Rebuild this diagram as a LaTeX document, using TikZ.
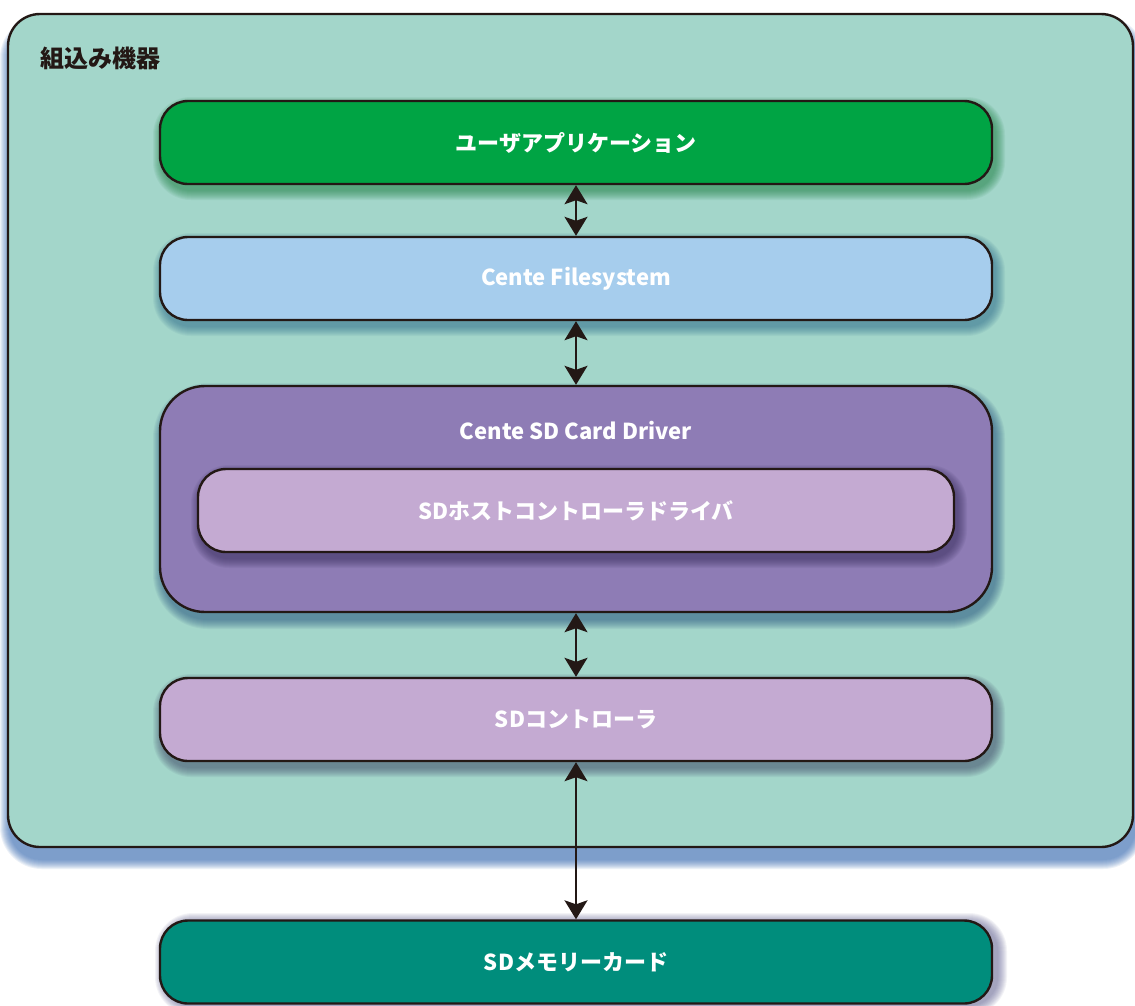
\documentclass[tikz,border=0pt]{standalone}
\usepackage{fontspec}
\setmainfont{Noto Sans CJK JP}
\usetikzlibrary{arrows.meta}
\definecolor{edge}{HTML}{231815}
\definecolor{outerfill}{HTML}{A3D6CA}
\definecolor{appfill}{HTML}{00A444}
\definecolor{fsfill}{HTML}{A6CDED}
\definecolor{drvfill}{HTML}{8E7CB5}
\definecolor{lilac}{HTML}{C4AAD2}
\definecolor{cardfill}{HTML}{008D7C}
\definecolor{shgreen}{HTML}{1A7F40}
\definecolor{shblue}{HTML}{2C6A8C}
\definecolor{shdrv}{HTML}{24507E}
\definecolor{shinner}{HTML}{352A5A}
\definecolor{shctl}{HTML}{3E4466}
\definecolor{shouter}{HTML}{2F65B0}
\definecolor{shcard}{HTML}{55558A}
\tikzset{
  box/.style={draw=edge, line width=2.4pt, rounded corners=28pt,
    minimum width=832pt, minimum height=83pt, inner sep=0pt,
    text=white, font=\fontsize{22}{26}\selectfont\bfseries},
  conn/.style={line width=2pt, draw=edge,
    {Stealth[width=23pt,length=19pt,inset=4pt]}-{Stealth[width=23pt,length=19pt,inset=4pt]}},
  boxlabel/.style={text=white, font=\fontsize{22}{26}\selectfont\bfseries, inner sep=0pt},
}
% x1 y1 x2 y2 radius colour dx dy opacity
\newcommand\softshadow[9]{%
  \foreach \i in {1,...,10}{%
    \pgfmathsetmacro\rr{#5+\i}%
    \fill[#6, opacity=#9, rounded corners=\rr pt]
      (#1+#7-\i, #2+#8-\i) rectangle (#3+#7+\i, #4+#8+\i);
  }}
\begin{document}
\begin{tikzpicture}[x=1pt,y=-1pt]
\useasboundingbox[fill=white] (0,0) rectangle (1135,1005);
% outer
\softshadow{8}{14}{1133}{847}{32}{shouter}{2}{12}{0.09}
\node[box, fill=outerfill, rounded corners=32pt, minimum width=1125pt, minimum height=833pt] (outer) at (570.5,430.5) {};
\node[anchor=west, text=edge, font=\fontsize{24}{28}\selectfont\bfseries, inner sep=0pt] (outerlabel) at (40,58) {組込み機器};
% app
\softshadow{160}{101}{992}{184}{28}{shgreen}{3}{6}{0.07}
\node[box, fill=appfill] (app) at (576,142.5) {ユーザアプリケーション};
% fs
\softshadow{160}{237}{992}{320}{28}{shblue}{3}{6}{0.07}
\node[box, fill=fsfill] (fs) at (576,278.5) {Cente Filesystem};
% driver
\softshadow{160}{386}{992}{612}{45}{shdrv}{3}{7}{0.07}
\node[box, fill=drvfill, rounded corners=45pt, minimum height=226pt] (drv) at (576,499) {};
\node[boxlabel] (drvlabel) at (576,431) {Cente SD Card Driver};
\softshadow{198}{469}{954}{552}{28}{shinner}{3}{6}{0.07}
\node[box, fill=lilac, minimum width=756pt] (host) at (576,510.5) {SDホストコントローラドライバ};
% controller
\softshadow{160}{678}{992}{761}{28}{shctl}{3}{6}{0.07}
\node[box, fill=lilac] (ctl) at (576,719.5) {SDコントローラ};
% card
\softshadow{160}{921}{992}{1003}{28}{shcard}{5}{2}{0.07}
\node[box, fill=cardfill] (card) at (576,962) {SDメモリーカード};
% connectors
\draw[conn] (app.south) -- (fs.north);
\draw[conn] (fs.south) -- (drv.north);
\draw[conn] (drv.south) -- (ctl.north);
\draw[conn] (ctl.south) -- (card.north);
\end{tikzpicture}
\end{document}
